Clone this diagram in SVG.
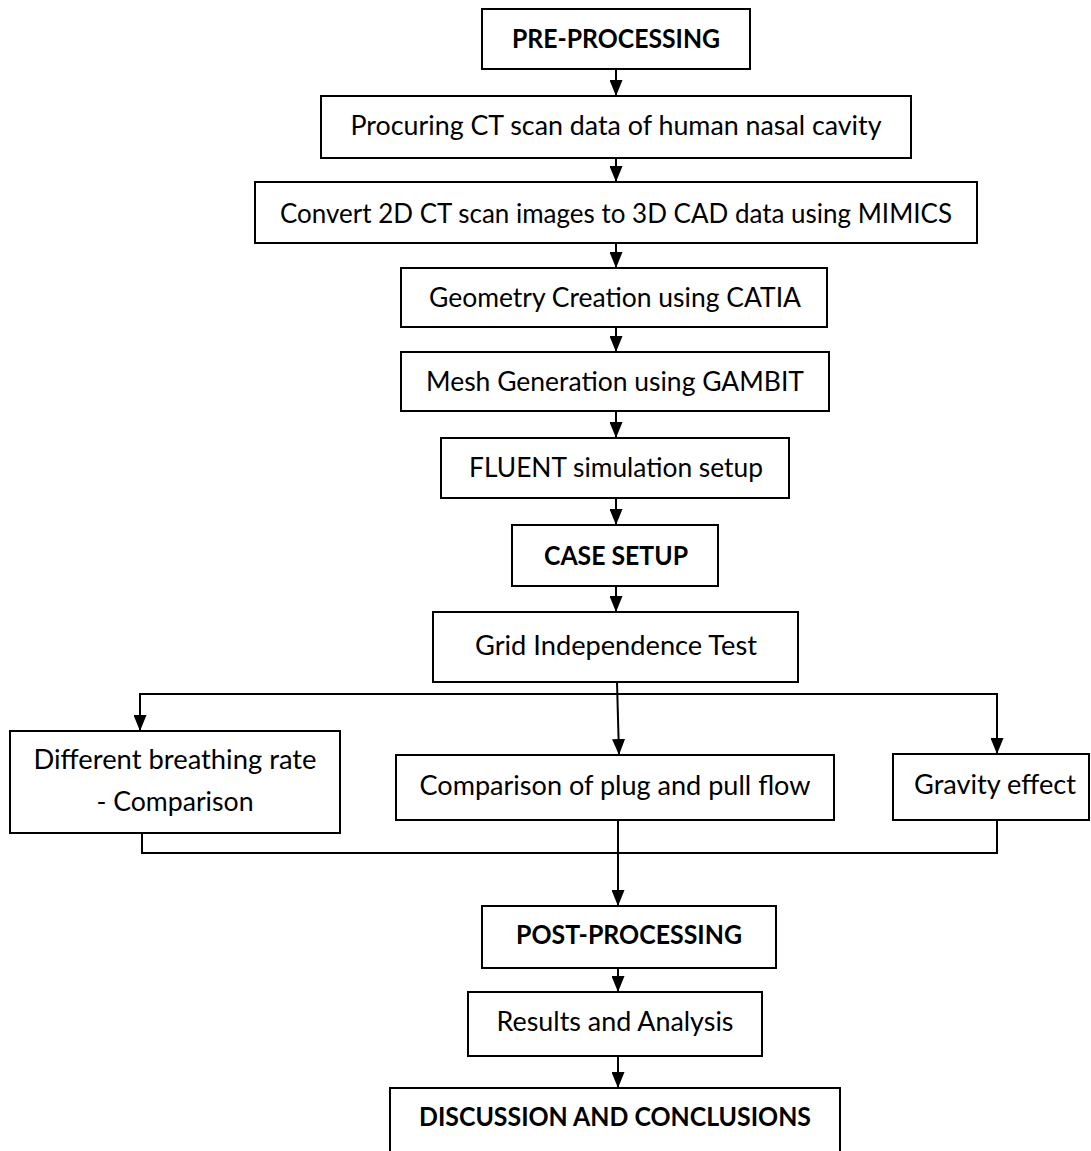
<svg xmlns="http://www.w3.org/2000/svg" width="1091" height="1151" viewBox="0 0 1091 1151">
<style>
.box{fill:#fff;stroke:#000;stroke-width:2}
.t{font-family:Lato,"Open Sans","Liberation Sans",sans-serif;font-size:26px;fill:#000;text-anchor:middle}
.b{font-weight:bold}
.c{fill:none;stroke:#000;stroke-width:2}
</style>
<defs>
<marker id="ah" viewBox="0 0 16 13" refX="16" refY="6.5" markerWidth="16" markerHeight="13" markerUnits="userSpaceOnUse" orient="auto">
<path d="M0,0 L16,6.5 L0,13 Z" fill="#000"/>
</marker>
</defs>
<rect width="1091" height="1151" fill="#fff"/>
<g id="connectors">
<line class="c" x1="616" y1="69" x2="616" y2="96" marker-end="url(#ah)"/>
<line class="c" x1="616" y1="158" x2="616" y2="182" marker-end="url(#ah)"/>
<line class="c" x1="616" y1="243" x2="616" y2="268" marker-end="url(#ah)"/>
<line class="c" x1="616" y1="327" x2="616" y2="352" marker-end="url(#ah)"/>
<line class="c" x1="616" y1="411" x2="616" y2="438" marker-end="url(#ah)"/>
<line class="c" x1="616" y1="498" x2="616" y2="525" marker-end="url(#ah)"/>
<line class="c" x1="616" y1="586" x2="616" y2="612" marker-end="url(#ah)"/>
<line class="c" x1="617" y1="682" x2="619" y2="755" marker-end="url(#ah)"/>
<line class="c" x1="139" y1="694" x2="998" y2="694"/>
<line class="c" x1="140" y1="693" x2="140" y2="731" marker-end="url(#ah)"/>
<line class="c" x1="997" y1="693" x2="997" y2="754" marker-end="url(#ah)"/>
<polyline class="c" points="142,833 142,853 997,853 997,820"/>
<line class="c" x1="618" y1="820" x2="618" y2="906" marker-end="url(#ah)"/>
<line class="c" x1="618" y1="968" x2="618" y2="992" marker-end="url(#ah)"/>
<line class="c" x1="618" y1="1056" x2="618" y2="1088" marker-end="url(#ah)"/>
</g>
<g id="pre"><rect class="box" x="482" y="9" width="268" height="60"/><text class="t b" x="616" y="48" textLength="208" lengthAdjust="spacingAndGlyphs">PRE-PROCESSING</text></g>
<g id="procure"><rect class="box" x="321" y="96" width="590" height="62"/><text class="t" x="616" y="135" textLength="531" lengthAdjust="spacingAndGlyphs">Procuring CT scan data of human nasal cavity</text></g>
<g id="convert"><rect class="box" x="255" y="182" width="722" height="61"/><text class="t" x="616" y="223" textLength="672" lengthAdjust="spacingAndGlyphs">Convert 2D CT scan images to 3D CAD data using MIMICS</text></g>
<g id="geometry"><rect class="box" x="401" y="268" width="426" height="59"/><text class="t" x="615" y="307" textLength="372" lengthAdjust="spacingAndGlyphs">Geometry Creation using CATIA</text></g>
<g id="mesh"><rect class="box" x="401" y="352" width="428" height="59"/><text class="t" x="615" y="391" textLength="378" lengthAdjust="spacingAndGlyphs">Mesh Generation using GAMBIT</text></g>
<g id="fluent"><rect class="box" x="441" y="438" width="348" height="60"/><text class="t" x="616" y="477" textLength="294" lengthAdjust="spacingAndGlyphs">FLUENT simulation setup</text></g>
<g id="case"><rect class="box" x="512" y="525" width="206" height="61"/><text class="t b" x="616" y="565" textLength="144" lengthAdjust="spacingAndGlyphs">CASE SETUP</text></g>
<g id="grid"><rect class="box" x="433" y="612" width="365" height="70"/><text class="t" x="616" y="655" textLength="282" lengthAdjust="spacingAndGlyphs">Grid Independence Test</text></g>
<g id="breathing"><rect class="box" x="10" y="731" width="330" height="102"/><text class="t" x="175" y="769" textLength="283" lengthAdjust="spacingAndGlyphs">Different breathing rate</text><text class="t" x="175" y="811" textLength="157" lengthAdjust="spacingAndGlyphs">- Comparison</text></g>
<g id="plug"><rect class="box" x="396" y="755" width="438" height="65"/><text class="t" x="615" y="795" textLength="391" lengthAdjust="spacingAndGlyphs">Comparison of plug and pull flow</text></g>
<g id="gravity"><rect class="box" x="893" y="754" width="196" height="66"/><text class="t" x="995" y="794" textLength="162" lengthAdjust="spacingAndGlyphs">Gravity effect</text></g>
<g id="post"><rect class="box" x="482" y="906" width="294" height="62"/><text class="t b" x="629" y="944" textLength="226" lengthAdjust="spacingAndGlyphs">POST-PROCESSING</text></g>
<g id="results"><rect class="box" x="468" y="992" width="294" height="64"/><text class="t" x="615" y="1031" textLength="237" lengthAdjust="spacingAndGlyphs">Results and Analysis</text></g>
<g id="discussion"><rect class="box" x="390" y="1088" width="450" height="80"/><text class="t b" x="615" y="1126" textLength="392" lengthAdjust="spacingAndGlyphs">DISCUSSION AND CONCLUSIONS</text></g>
</svg>
